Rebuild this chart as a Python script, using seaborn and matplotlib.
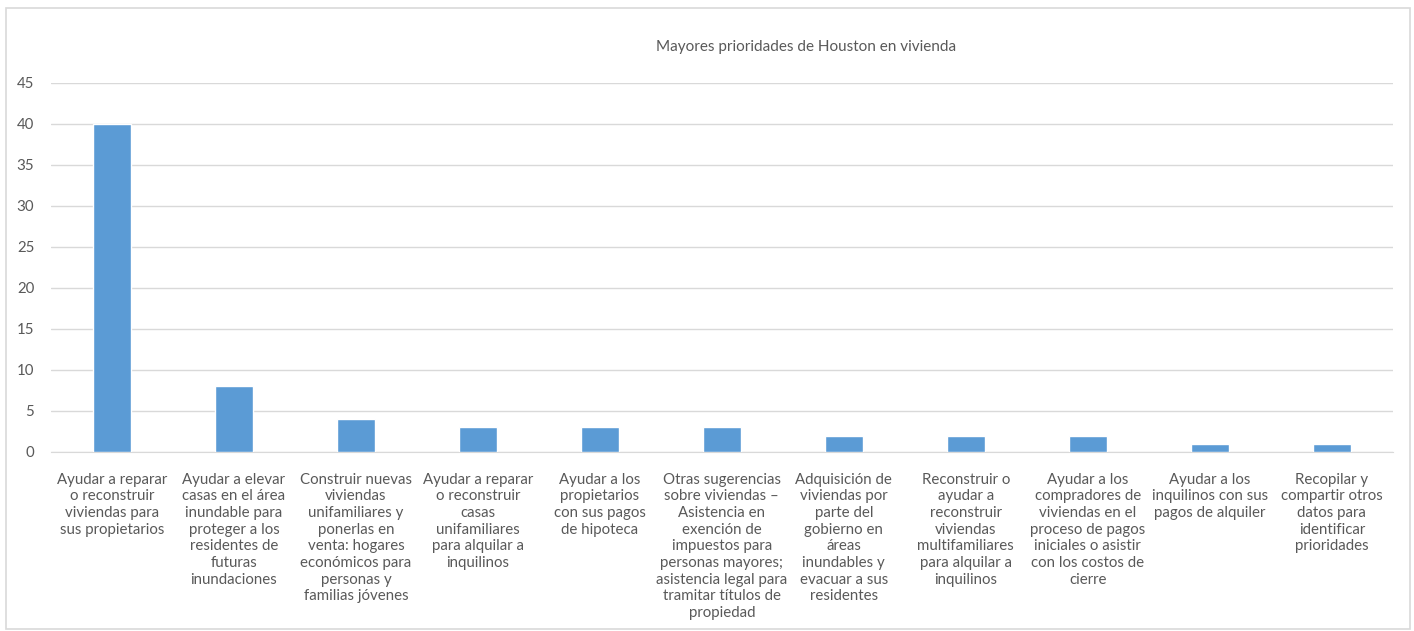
import pandas as pd
import seaborn as sns
from matplotlib import pyplot as plt
from matplotlib.patches import Rectangle

# data
categories = [
    "Ayudar a reparar\no reconstruir\nviviendas para\nsus propietarios",
    "Ayudar a elevar\ncasas en el área\ninundable para\nproteger a los\nresidentes de\nfuturas\ninundaciones",
    "Construir nuevas\nviviendas\nunifamiliares y\nponerlas en\nventa: hogares\neconómicos para\npersonas y\nfamilias jóvenes",
    "Ayudar a reparar\no reconstruir\ncasas\nunifamiliares\npara alquilar a\ninquilinos",
    "Ayudar a los\npropietarios\ncon sus pagos\nde hipoteca",
    "Otras sugerencias\nsobre viviendas –\nAsistencia en\nexención de\nimpuestos para\npersonas mayores;\nasistencia legal para\ntramitar títulos de\npropiedad",
    "Adquisición de\nviviendas por\nparte del\ngobierno en\náreas\ninundables y\nevacuar a sus\nresidentes",
    "Reconstruir o\nayudar a\nreconstruir\nviviendas\nmultifamiliares\npara alquilar a\ninquilinos",
    "Ayudar a los\ncompradores de\nviviendas en el\nproceso de pagos\niniciales o asistir\ncon los costos de\ncierre",
    "Ayudar a los\ninquilinos con sus\npagos de alquiler",
    "Recopilar y\ncompartir otros\ndatos para\nidentificar\nprioridades",
]
values = [40, 8, 4, 3, 3, 3, 2, 2, 2, 1, 1]
y_ticks = [0, 5, 10, 15, 20, 25, 30, 35, 40, 45]
title = "Mayores prioridades de Houston en vivienda"

df = pd.DataFrame({"cat": categories, "val": values})

sns.set_style("white")
plt.rcParams["font.family"] = ["Lato", "DejaVu Sans"]
txt = "#595959"
grid = "#d9d9d9"

fig = plt.figure(figsize=(14.14, 6.31), dpi=100)
ax = fig.add_axes([0.036, 0.2837, 0.949, 0.5848])

sns.barplot(data=df, x="cat", y="val", color="#5B9BD5", saturation=1,
            width=0.31, ax=ax, zorder=3)

ax.set_ylim(0, 45)
ax.set_yticks(y_ticks)
ax.yaxis.grid(True, color=grid, linewidth=1, zorder=0)
ax.set_xlabel("")
ax.set_ylabel("")
for s in ["top", "right", "left"]:
    ax.spines[s].set_visible(False)
ax.spines["bottom"].set_color(grid)
ax.tick_params(axis="both", length=0, colors=txt, labelsize=10.8)
ax.tick_params(axis="y", pad=12)
ax.tick_params(axis="x", pad=15)
ax.set_xticks(range(len(categories)))
ax.set_xticklabels(categories, linespacing=1.24, va="top", ha="center")

fig.text(0.57, 0.925, title, ha="center", va="center", color=txt, fontsize=11)

fig.patches.append(Rectangle((0.004, 0.003), 0.993, 0.984, transform=fig.transFigure,
                             fill=False, edgecolor=grid, linewidth=1.2))

fig.savefig("out.png", dpi=100)
